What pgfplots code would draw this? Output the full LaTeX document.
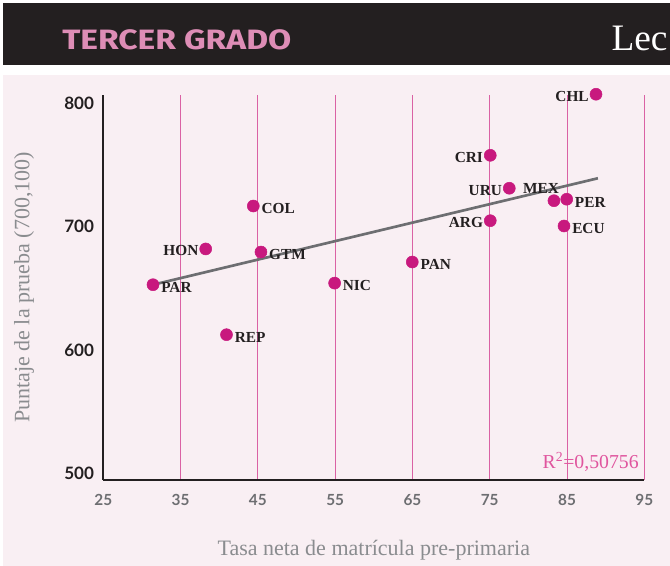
\documentclass[border=0pt]{standalone}
\usepackage{pgfplots}
\usepackage{pgfplotstable}
\pgfplotsset{compat=1.18}
\usepackage{fontspec}
\setmainfont{Liberation Serif}
\newfontfamily\latofont{Lato}
\newfontfamily\headfont{Fira Sans}
\definecolor{bgpink}{HTML}{F9EFF3}
\definecolor{hdr}{HTML}{231F20}
\definecolor{hdrpink}{HTML}{DE8DB6}
\definecolor{dotc}{HTML}{C8197E}
\definecolor{gridc}{HTML}{DA62A4}
\definecolor{trend}{HTML}{6D6E71}
\definecolor{titlegray}{HTML}{8A8C8F}
\definecolor{rtwo}{HTML}{E0559E}

% points labelled on the left
\pgfplotstableread{
x y label
88.75 807.3 CHL
75.07 757.8 CRI
77.53 731.1 URU
75.07 704.8 ARG
38.25 681.9 HON
}\lefttable
% points labelled on the right
\pgfplotstableread{
x y label
84.96 722.2 PER
84.61 700.5 ECU
64.98 671.3 PAN
44.41 716.7 COL
45.40 679.4 GTM
31.43 652.9 PAR
54.93 654.2 NIC
40.94 612.4 REP
}\righttable
% point labelled above
\pgfplotstableread{
x y label
83.31 721.0 MEX
}\toptable

\begin{document}
\begin{tikzpicture}
\useasboundingbox (0,0) rectangle (502.5pt,424.5pt);
\fill[white] (0,0) rectangle (502.5pt,424.5pt);
\fill[hdr] (2.25pt,375.75pt) rectangle (502.5pt,422.25pt);
\fill[bgpink] (2.25pt,0pt) rectangle (502.5pt,368.25pt);
\node[anchor=base west, inner sep=0, text=hdrpink, font=\headfont\bfseries\fontsize{21}{21}\selectfont] at (46.5pt,387pt) {\scalebox{1.2}[1]{TERCER GRADO}};
\node[anchor=base west, inner sep=0, text=white, font=\fontsize{28}{28}\selectfont] at (458.5pt,386.25pt) {Lec};

\begin{axis}[
  at={(77.475pt,64.5pt)}, anchor=south west,
  width=405.75pt, height=288.75pt, scale only axis,
  xmin=25, xmax=95, ymin=494.6, ymax=806.7,
  axis x line=bottom, axis y line=left,
  axis line style={hdr, line width=1.75pt, -},
  xtick={25,35,45,55,65,75,85,95}, ytick={500,600,700,800},
  major tick length=0,
  xmajorgrids, grid style={gridc, line width=0.75pt},
  /pgf/number format/assume math mode=true,
  xticklabel style={font=\latofont\bfseries\fontsize{11.5}{12}\selectfont, text=trend, inner sep=0, anchor=north, yshift=-10.5pt},
  yticklabel style={font=\latofont\bfseries\fontsize{12.8}{13}\selectfont, text=hdr, inner sep=0, anchor=east, xshift=-6.75pt},
  xlabel={Tasa neta de matrícula pre-primaria},
  xlabel style={at={(axis description cs:0.5,-0.182)}, anchor=center, font=\fontsize{16.5}{17}\selectfont, text=titlegray},
  ylabel={Puntaje de la prueba (700,100)},
  ylabel style={at={(axis description cs:-0.1466,0.5)}, anchor=center, font=\fontsize{16.5}{17}\selectfont, text=titlegray},
  clip=false,
  dots/.style={only marks, mark=*, mark size=4.5pt, color=dotc, mark options={draw=dotc, fill=dotc}},
  labs/.style={draw=none, no marks, nodes near coords, point meta=explicit symbolic,
     every node near coord/.append style={inner sep=0, text=hdr, font=\bfseries\fontsize{11.5}{12}\selectfont}},
]
\addplot[dots] table[x=x, y=y] {\lefttable};
\addplot[dots] table[x=x, y=y] {\righttable};
\addplot[dots] table[x=x, y=y] {\toptable};
\addplot[trend, line width=2pt, no marks] coordinates {(31.43,652.9) (89.0,739.2)};
\addplot[labs, every node near coord/.append style={anchor=east, xshift=-5.3pt, yshift=-1.4pt}] table[x=x, y=y, meta=label] {\lefttable};
\addplot[labs, every node near coord/.append style={anchor=west, xshift=6pt, yshift=-2.1pt}] table[x=x, y=y, meta=label] {\righttable};
\addplot[labs, every node near coord/.append style={anchor=east, xshift=4pt, yshift=9.3pt}] table[x=x, y=y, meta=label] {\toptable};
\node[anchor=east, inner sep=0, text=rtwo, font=\fontsize{14.8}{15}\selectfont] at (axis description cs:0.990,0.0475) {R\textsuperscript{2}=0,50756};
\end{axis}
\end{tikzpicture}
\end{document}
